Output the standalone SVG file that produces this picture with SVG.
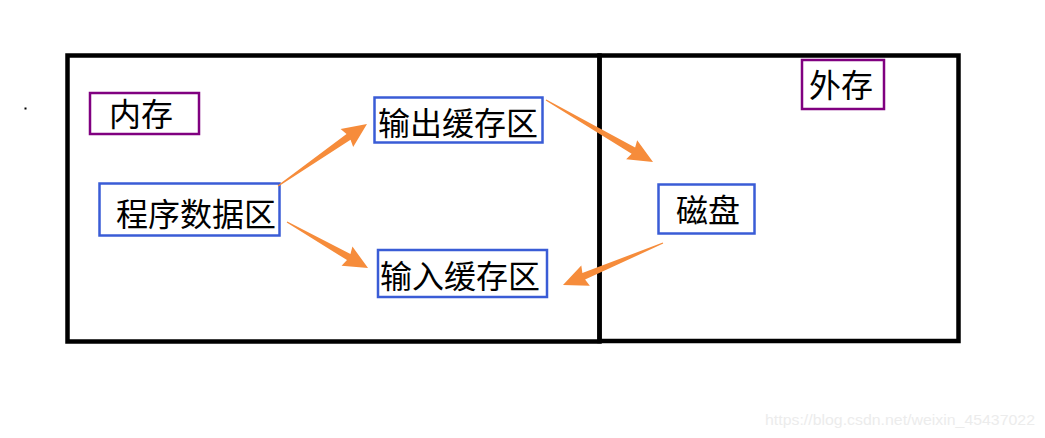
<svg xmlns="http://www.w3.org/2000/svg" width="1045" height="438" viewBox="0 0 1045 438">
<defs>
<style>
.region{fill:none;stroke:#000;stroke-width:4.5}
.boxb{fill:#fff;stroke:#3A5CD6;stroke-width:2.5}
.boxp{fill:#fff;stroke:#800080;stroke-width:2.5}
.lbl{font-family:"Noto Sans CJK SC","Noto Sans",sans-serif;font-size:32px;fill:#000;text-anchor:middle;dominant-baseline:central}
.arr{fill:#F68C3B}
.wm{font-family:"Liberation Sans",Arial,sans-serif;font-size:15px;fill:#ececec}
</style>
</defs>
<g id="memory">
<rect class="region" x="67.5" y="55.5" width="532" height="286"/>
</g>
<g id="external">
<rect class="region" x="599.5" y="55.5" width="359" height="285.5"/>
</g>
<g id="label-memory">
<rect class="boxp" x="90" y="93" width="109" height="41"/>
<text class="lbl" x="141" y="112">内存</text>
</g>
<g id="label-external">
<rect class="boxp" x="802" y="60" width="82" height="49"/>
<text class="lbl" x="841" y="83">外存</text>
</g>
<g id="program-data">
<rect class="boxb" x="99.5" y="183.5" width="180" height="52"/>
<text class="lbl" x="196" y="212">程序数据区</text>
</g>
<g id="output-buffer">
<rect class="boxb" x="374.5" y="97.5" width="168" height="45"/>
<text class="lbl" x="458" y="121">输出缓存区</text>
</g>
<g id="input-buffer">
<rect class="boxb" x="378" y="250" width="169" height="47"/>
<text class="lbl" x="460" y="274">输入缓存区</text>
</g>
<g id="disk">
<rect class="boxb" x="658.5" y="184.5" width="96" height="49"/>
<text class="lbl" x="708" y="208">磁盘</text>
</g>
<g id="connectors">
<path class="arr" transform="translate(278,186) rotate(-34.9)" d="M0,-0.6 L86,-3.5 L84,-11 L108.5,0 L84,11 L86,3.5 L0,0.6 Z"/>
<path class="arr" transform="translate(287,222) rotate(29.6)" d="M0,-0.6 L71,-3.5 L69,-11 L93.2,0 L69,11 L71,3.5 L0,0.6 Z"/>
<path class="arr" transform="translate(546,100) rotate(30.1)" d="M0,-0.6 L101,-3.5 L99,-11 L123.7,0 L99,11 L101,3.5 L0,0.6 Z"/>
<path class="arr" transform="translate(663,243) rotate(157.2)" d="M0,-0.6 L86,-3.5 L84,-11 L108.5,0 L84,11 L86,3.5 L0,0.6 Z"/>
</g>
<rect x="24.5" y="107.5" width="2" height="2" fill="#000"/>
<text class="wm" x="765" y="425" textLength="270" lengthAdjust="spacingAndGlyphs">https://blog.csdn.net/weixin_45437022</text>
</svg>
